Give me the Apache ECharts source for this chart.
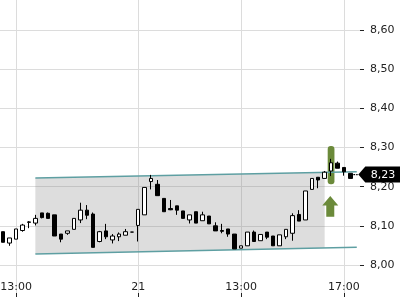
<!DOCTYPE html>
<html>
<head>
<meta charset="utf-8">
<script src="https://cdn.jsdelivr.net/npm/echarts@6.0.0/dist/echarts.min.js"></script>
<style>html,body{margin:0;padding:0;background:#fff}#c{width:400px;height:300px}</style>
</head>
<body>
<div id="c"></div>
<script>
// 15-minute intervals, day 20 (12:30-17:30) and day 21 (09:00-17:30)
const categories = [
  '20 12:30','20 12:45','20 13:00','20 13:15','20 13:30','20 13:45','20 14:00','20 14:15','20 14:30','20 14:45',
  '20 15:00','20 15:15','20 15:30','20 15:45','20 16:00','20 16:15','20 16:30','20 16:45','20 17:00','20 17:15','20 17:30',
  '21 09:00','21 09:15','21 09:30','21 09:45','21 10:00','21 10:15','21 10:30','21 10:45','21 11:00','21 11:15',
  '21 11:30','21 11:45','21 12:00','21 12:15','21 12:30','21 12:45','21 13:00','21 13:15','21 13:30','21 13:45',
  '21 14:00','21 14:15','21 14:30','21 14:45','21 15:00','21 15:15','21 15:30','21 15:45','21 16:00','21 16:15',
  '21 16:30','21 16:45','21 17:00','21 17:15','21 17:30'
];
// [open, close, low, high]
const candles = [
  [8.085,8.058,8.058,8.085],[8.056,8.069,8.049,8.069],[8.066,8.092,8.066,8.092],[8.088,8.102,8.085,8.105],
  [8.110,8.109,8.094,8.112],[8.107,8.119,8.101,8.128],[8.133,8.121,8.119,8.133],[8.132,8.119,8.119,8.134],
  [8.128,8.074,8.074,8.128],[8.079,8.066,8.058,8.079],[8.081,8.087,8.077,8.087],[8.091,8.119,8.091,8.119],
  [8.115,8.140,8.107,8.159],[8.140,8.127,8.117,8.153],[8.130,8.045,8.045,8.134],[8.060,8.085,8.058,8.087],
  [8.087,8.072,8.066,8.105],[8.064,8.074,8.055,8.079],[8.072,8.079,8.061,8.083],[8.076,8.085,8.076,8.092],
  [8.084,8.084,8.084,8.084],[8.101,8.142,8.060,8.142],[8.128,8.198,8.128,8.198],[8.213,8.221,8.193,8.230],
  [8.206,8.177,8.177,8.217],[8.170,8.136,8.136,8.170],[8.144,8.141,8.140,8.166],[8.151,8.140,8.128,8.151],
  [8.138,8.119,8.119,8.138],[8.115,8.128,8.106,8.128],[8.136,8.107,8.107,8.136],[8.113,8.128,8.113,8.136],
  [8.125,8.105,8.105,8.125],[8.100,8.087,8.087,8.109],[8.088,8.086,8.081,8.105],[8.092,8.079,8.072,8.092],
  [8.079,8.041,8.041,8.079],[8.043,8.049,8.043,8.049],[8.049,8.084,8.049,8.084],[8.084,8.060,8.060,8.088],
  [8.062,8.078,8.062,8.078],[8.084,8.071,8.066,8.084],[8.074,8.049,8.049,8.074],[8.049,8.077,8.049,8.077],
  [8.072,8.091,8.066,8.091],[8.081,8.126,8.062,8.132],[8.129,8.112,8.112,8.140],[8.115,8.189,8.115,8.189],
  [8.193,8.221,8.193,8.221],[8.224,8.217,8.196,8.224],[8.221,8.237,8.221,8.240],[8.240,8.261,8.227,8.271],
  [8.260,8.247,8.247,8.264],[8.249,8.238,8.228,8.249],[8.234,8.221,8.221,8.234]
];
const xTickIdx = [2, 21, 37, 53];
const xTickText = ['13:00', '21', '13:00', '17:00'];
// trend channel
const channelIdx = [5, 55];
const channelUpper = [8.222, 8.238];
const channelLower = [8.028, 8.045];
const fillEndIdx = 50;
// highlighted candle and signal arrow
const signalIdx = 51;
const highlightRange = [8.206, 8.304];
const arrowRange = [8.123, 8.176];
// last price
const lastIdx = 54;
const lastPrice = 8.23;

const FONT = 'DejaVu Sans';
const OLIVE = '#6b8a3a';
const TEAL = '#5e9fa2';
const fmt = v => v.toFixed(2).replace('.', ',');

const chart = echarts.init(document.getElementById('c'), null, {renderer: 'canvas'});
chart.setOption({
  animation: false,
  backgroundColor: '#fff',
  grid: {left: 0, right: 40, top: 0, bottom: 3, containLabel: false, outerBoundsMode: 'none'},
  xAxis: {
    type: 'category',
    data: categories,
    boundaryGap: true,
    axisLine: {show: false},
    axisTick: {show: true, inside: true, length: 4, alignWithLabel: true,
      interval: i => xTickIdx.includes(i), lineStyle: {color: '#222'}},
    axisLabel: {inside: true, margin: 4, interval: i => xTickIdx.includes(i),
      formatter: (v, i) => xTickText[xTickIdx.indexOf(i)] || '',
      color: '#222', fontFamily: FONT, fontSize: 11},
    splitLine: {show: true, alignWithLabel: true, interval: i => xTickIdx.includes(i),
      lineStyle: {color: '#dcdcdc', width: 1}}
  },
  yAxis: {
    type: 'value',
    position: 'right',
    min: 7.9183,
    max: 8.6765,
    splitNumber: 8,
    scale: true,
    axisLine: {show: false},
    axisTick: {show: true, length: 4, lineStyle: {color: '#222'}},
    axisLabel: {margin: 10, showMinLabel: false, showMaxLabel: false, formatter: v => fmt(v),
      color: '#222', fontFamily: FONT, fontSize: 11},
    splitLine: {show: true, showMinLine: false, showMaxLine: false, lineStyle: {color: '#dcdcdc', width: 1}}
  },
  series: [
    {
      type: 'custom', z: 1, silent: true,
      data: [[channelIdx[0], channelUpper[0]]],
      renderItem: (params, api) => {
        const a = api.coord([channelIdx[0], channelUpper[0]]);
        const b = api.coord([channelIdx[1], channelUpper[1]]);
        const c = api.coord([channelIdx[0], channelLower[0]]);
        const d = api.coord([channelIdx[1], channelLower[1]]);
        const xe = api.coord([fillEndIdx, channelUpper[0]])[0];
        const t = (xe - a[0]) / (b[0] - a[0]);
        return {type: 'polygon', shape: {points: [a, [xe, a[1] + t * (b[1] - a[1])], [xe, c[1] + t * (d[1] - c[1])], c]},
          style: {fill: 'rgba(120,120,120,0.25)'}};
      }
    },
    {
      type: 'line', z: 2, silent: true, showSymbol: false,
      data: [[channelIdx[0], channelUpper[0]], [channelIdx[1], channelUpper[1]]],
      lineStyle: {color: TEAL, width: 1.5}
    },
    {
      type: 'line', z: 2, silent: true, showSymbol: false,
      data: [[channelIdx[0], channelLower[0]], [channelIdx[1], channelLower[1]]],
      lineStyle: {color: TEAL, width: 1.5}
    },
    {
      type: 'custom', z: 2, silent: true,
      data: [[signalIdx, highlightRange[0], highlightRange[1]]],
      renderItem: (params, api) => {
        const lo = api.coord([api.value(0), api.value(1)]);
        const hi = api.coord([api.value(0), api.value(2)]);
        const w = api.size([1, 0])[0] * 1.05;
        return {type: 'rect', shape: {x: lo[0] - w / 2, y: hi[1], width: w, height: lo[1] - hi[1], r: 3},
          style: {fill: OLIVE}};
      }
    },
    {
      type: 'candlestick', z: 3, silent: true,
      data: candles,
      barWidth: 4,
      itemStyle: {color: '#ffffff', color0: '#000000', borderColor: '#000000', borderColor0: '#000000', borderWidth: 1}
    },
    {
      type: 'custom', z: 4, silent: true,
      data: [[signalIdx, arrowRange[0], arrowRange[1]]],
      renderItem: (params, api) => {
        const lo = api.coord([api.value(0), api.value(1)]);
        const hi = api.coord([api.value(0), api.value(2)]);
        const x = lo[0] - 0.8, h = lo[1] - hi[1];
        const headB = hi[1] + h * 0.45;
        return {type: 'polygon', shape: {points: [
          [x, hi[1]], [x + 8, headB], [x + 4, headB], [x + 4, lo[1]], [x - 4, lo[1]], [x - 4, headB], [x - 8, headB]
        ]}, style: {fill: OLIVE}};
      }
    },
    {
      type: 'custom', z: 5, silent: true, clip: false,
      data: [[lastIdx, lastPrice]],
      renderItem: (params, api) => {
        const p = api.coord([api.value(0), api.value(1)]);
        const cs = params.coordSys;
        const tip = cs.x + cs.width - 1.7;
        const W = api.getWidth();
        const y = Math.round(p[1]) - 0.5;
        return {type: 'group', children: [
          {type: 'rect', shape: {x: p[0] + 3, y: y - 0.5, width: 1.8, height: 1.2}, style: {fill: '#000'}},
          {type: 'rect', shape: {x: p[0] + 5.8, y: y - 0.5, width: 1.5, height: 1.2}, style: {fill: '#000'}},
          {type: 'polygon', shape: {points: [[tip, y], [tip + 7, y - 8], [W, y - 8], [W, y + 8], [tip + 7, y + 8]]},
            style: {fill: '#000'}},
          {type: 'text', style: {text: fmt(api.value(1)), x: tip + 12.5, y: y + 0.5, fill: '#fff',
            font: '11px "DejaVu Sans"', align: 'left', verticalAlign: 'middle'}}
        ]};
      }
    }
  ]
});
</script>
</body>
</html>
